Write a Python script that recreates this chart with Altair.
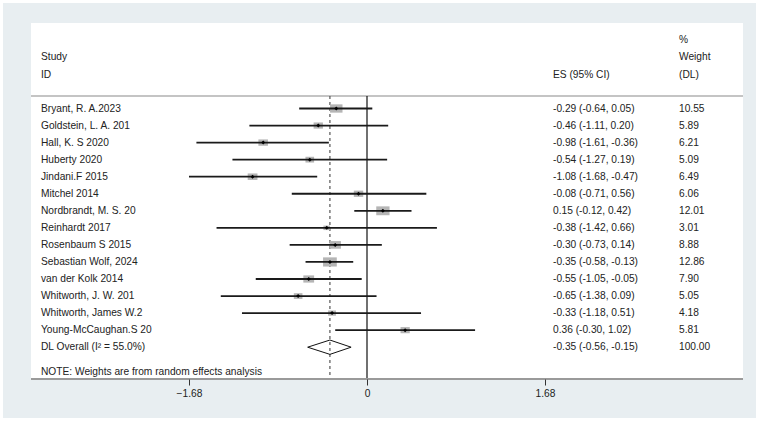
import altair as alt
import pandas as pd

studies = ["Bryant, R. A.2023", "Goldstein, L. A. 201", "Hall, K. S 2020", "Huberty 2020",
           "Jindani.F 2015", "Mitchel 2014", "Nordbrandt, M. S. 20", "Reinhardt 2017",
           "Rosenbaum S 2015", "Sebastian Wolf, 2024", "van der Kolk 2014",
           "Whitworth, J. W. 201", "Whitworth, James W.2", "Young-McCaughan.S 20"]
es = [-0.29, -0.46, -0.98, -0.54, -1.08, -0.08, 0.15, -0.38, -0.30, -0.35, -0.55, -0.65, -0.33, 0.36]
lo = [-0.64, -1.11, -1.61, -1.27, -1.68, -0.71, -0.12, -1.42, -0.73, -0.58, -1.05, -1.38, -1.18, -0.30]
hi = [0.05, 0.20, -0.36, 0.19, -0.47, 0.56, 0.42, 0.66, 0.14, -0.13, -0.05, 0.09, 0.51, 1.02]
weights = [10.55, 5.89, 6.21, 5.09, 6.49, 6.06, 12.01, 3.01, 8.88, 12.86, 7.90, 5.05, 4.18, 5.81]

overall_label = "DL Overall  (I\u00b2 = 55.0%)"
overall_es, overall_lo, overall_hi, overall_w = -0.35, -0.56, -0.15, 100.00
tick_values = [-1.68, 0, 1.68]

FONT = "Liberation Sans"
FS = 10.2
TXT = "#222222"

n = len(studies)
df = pd.DataFrame({
    "study": studies, "es": es, "lo": lo, "hi": hi, "w": weights,
    "row": list(range(n)),
})
df["es_txt"] = [f"{e:.2f} ({l:.2f}, {h:.2f})" for e, l, h in zip(es, lo, hi)]
df["w_txt"] = [f"{v:.2f}" for v in weights]

ov = pd.DataFrame({"study": [overall_label], "es": [overall_es], "lo": [overall_lo],
                   "hi": [overall_hi], "w": [overall_w], "row": [n]})
ov["es_txt"] = [f"{overall_es:.2f} ({overall_lo:.2f}, {overall_hi:.2f})"]
ov["w_txt"] = [f"{overall_w:.2f}"]
alltxt = pd.concat([df, ov], ignore_index=True)

# diamond outline built from the overall estimate
half = 0.42
dia = pd.DataFrame({
    "x": [overall_lo, overall_es, overall_hi, overall_es, overall_lo],
    "y": [n, n - half, n, n + half, n],
    "o": [0, 1, 2, 3, 4],
})

# scales: px = 367 + 105.95 * value ; py = 108.5 + 17.05 * row
W, H = 767, 424
k = 178 / 1.68
xs = alt.Scale(domain=[-367 / k, (W - 367) / k], nice=False, zero=False)
ys = alt.Scale(domain=[-108.5 / 17.05, (H - 108.5) / 17.05], nice=False, zero=False, reverse=True)
xaxis = alt.Axis(values=tick_values, offset=-(H - 379), domain=False, grid=False,
                 tickColor="#333", tickSize=6, tickWidth=1, zindex=2,
                 labelExpr="datum.value == 0 ? '0' : format(datum.value, '.2f')",
                 labelFont=FONT, labelFontSize=FS, labelColor=TXT, labelPadding=3, title=None)


def X(f):
    return alt.X(f, type="quantitative", scale=xs, axis=xaxis)


def Y(f):
    return alt.Y(f, type="quantitative", scale=ys, axis=None)


one = pd.DataFrame({"a": [0]})
base = alt.Chart(one)

bg = base.mark_rect(color="#e8eef1").encode(
    x=alt.value(3), x2=alt.value(756), y=alt.value(3), y2=alt.value(418))
panel = base.mark_rect(color="#ffffff").encode(
    x=alt.value(31), x2=alt.value(743), y=alt.value(23), y2=alt.value(379))
hline = base.mark_rule(color="#b0b0b0", strokeWidth=1.5).encode(
    x=alt.value(31), x2=alt.value(743), y=alt.value(96))
axline = base.mark_rule(color="#9a9a9a", strokeWidth=2).encode(
    x=alt.value(31), x2=alt.value(743), y=alt.value(379))

zero = alt.Chart(pd.DataFrame({"v": [0.0]})).mark_rule(color="#111", strokeWidth=1.2).encode(
    x=X("v"), y=alt.value(96), y2=alt.value(379))
dash = alt.Chart(pd.DataFrame({"v": [overall_es]})).mark_rule(
    color="#555", strokeWidth=1.2, strokeDash=[3, 3]).encode(
    x=X("v"), y=alt.value(96), y2=alt.value(379))

squares = alt.Chart(df).mark_point(
    shape="M-1.5,-1L1.5,-1L1.5,1L-1.5,1Z", filled=True, color="#b5b5b5", opacity=1).encode(
    x=X("es"), y=Y("row"),
    size=alt.Size("w", type="quantitative", scale=alt.Scale(domain=[0, 13], range=[0, 85]), legend=None))
ci = alt.Chart(df).mark_rule(color="#1a1a1a", strokeWidth=1.8).encode(
    x=X("lo"), x2=alt.X2("hi"), y=Y("row"))
dots = alt.Chart(df).mark_point(shape="diamond", filled=True, color="#000", size=16, opacity=1).encode(
    x=X("es"), y=Y("row"))
diamond = alt.Chart(dia).mark_line(color="#111", strokeWidth=1).encode(
    x=X("x"), y=Y("y"), order="o")

tprops = dict(font=FONT, fontSize=FS, color=TXT, align="left", baseline="middle")
lab = alt.Chart(alltxt).mark_text(**tprops).encode(x=alt.value(41), y=Y("row"), text="study")
estx = alt.Chart(alltxt).mark_text(**tprops).encode(x=alt.value(553), y=Y("row"), text="es_txt")
wtx = alt.Chart(alltxt).mark_text(**tprops).encode(x=alt.value(679), y=Y("row"), text="w_txt")


def htext(s, px, py):
    return base.mark_text(**tprops).encode(x=alt.value(px), y=alt.value(py), text=alt.value(s))


headers = [htext("Study", 41, 57), htext("ID", 41, 75), htext("ES (95% CI)", 553, 75),
           htext("%", 679, 40), htext("Weight", 679, 57), htext("(DL)", 679, 75),
           htext("NOTE: Weights are from random effects analysis", 41, 372)]

chart = alt.layer(bg, panel, hline, zero, dash, squares, ci, dots, diamond,
                  lab, estx, wtx, *headers, axline).properties(
    width=W, height=H, padding=0, autosize=alt.AutoSizeParams(type="none"),
    background="#ffffff",
).configure_view(stroke=None)

chart.save("out.html", embed_options={"renderer": "svg", "actions": False})
